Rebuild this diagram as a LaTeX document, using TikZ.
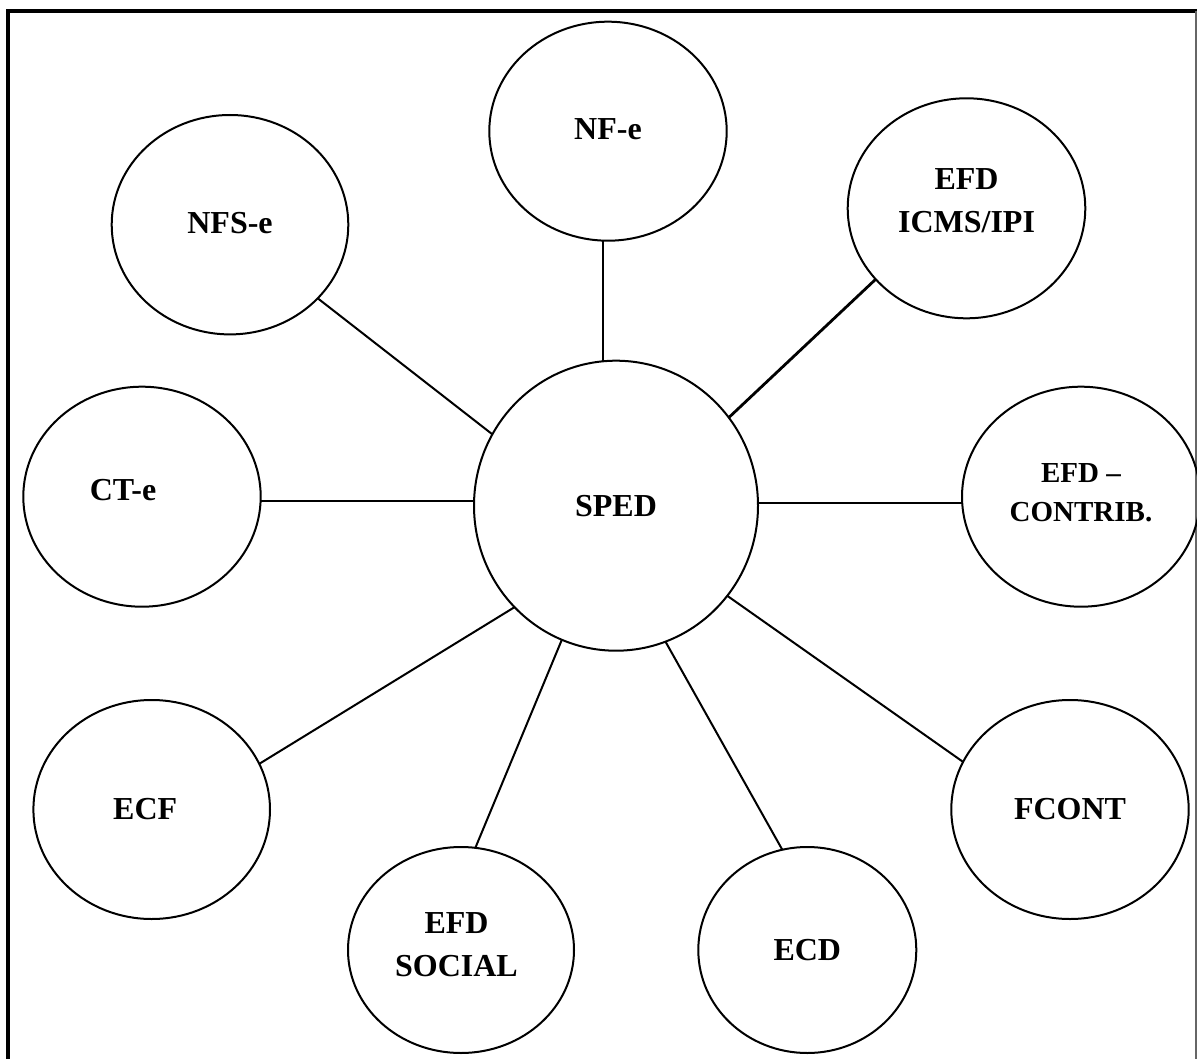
\documentclass[tikz,border=0pt]{standalone}
\usepackage{fontspec}
\setmainfont{Liberation Serif}
\usetikzlibrary{shapes.geometric}
\begin{document}
\begin{tikzpicture}[x=1pt,y=-1pt,
  bubble/.style={ellipse, draw=black, line width=2pt, inner sep=0pt, outer sep=0pt,
    align=center, font=\fontsize{32}{43}\selectfont\bfseries},
  link/.style={draw=black, line width=2pt},
  framebold/.style={draw=black, line width=4pt},
  framethin/.style={draw=black!60, line width=1.3pt}]
\useasboundingbox (0,0) rectangle (1197,1059);
% frame
\draw[framebold] (8,1065) -- (8,10.7) -- (1200,10.7);
\draw[framethin] (1196,10.7) -- (1196,1065);
% nodes
\node[bubble, minimum width=237.4pt, minimum height=219pt] (nfe) at (608,131.2) {NF-e\rule[-4pt]{0pt}{4pt}};
\node[bubble, minimum width=236.6pt, minimum height=219.4pt] (nfse) at (230,224.7) {NFS-e\rule[-4pt]{0pt}{4pt}};
\node[bubble, minimum width=237.6pt, minimum height=220pt] (icms) at (966.5,208.3) {EFD\\ICMS/IPI\rule[-16pt]{0pt}{16pt}};
\node[bubble, minimum width=237.4pt, minimum height=220pt] (cte) at (142,496.7) {\raisebox{14pt}{CT-e}\hspace*{38pt}};
\node[bubble, minimum width=284pt, minimum height=290pt] (sped) at (616,505.7) {SPED};
\node[bubble, minimum width=238pt, minimum height=220pt, font=\fontsize{29}{39}\selectfont\bfseries] (contrib) at (1081,496.7) {EFD –\\CONTRIB.\rule[-8pt]{0pt}{8pt}};
\node[bubble, minimum width=236.6pt, minimum height=219pt] (ecf) at (151.7,809.5) {ECF\hspace*{13pt}};
\node[bubble, minimum width=226pt, minimum height=206pt] (social) at (461,950) {EFD\hspace*{9pt}\\SOCIAL\hspace*{9pt}\rule[-10pt]{0pt}{10pt}};
\node[bubble, minimum width=218pt, minimum height=206pt] (ecd) at (807.3,950) {ECD};
\node[bubble, minimum width=237.4pt, minimum height=219pt] (fcont) at (1070,809.5) {FCONT};
% connectors
\draw[link] (sped.95.5) -- (sped.95.5 |- nfe.south);
\draw[link] (nfse.320.6) -- (sped.150.3);
\draw[link, line width=2.8pt] (icms.218.7) -- (sped.38.2);
\draw[link] (sped.178.1) -- (sped.178.1 -| cte.east);
\draw[link] (sped.1.9) -- (sped.1.9 -| contrib.west);
\draw[link] (sped.225.5) -- (ecf.23.5);
\draw[link] (sped.248.8) -- (social.82.8);
\draw[link] (sped.290.1) -- (ecd.104.8);
\draw[link] (sped.321.4) -- (fcont.156.4);
\end{tikzpicture}
\end{document}
